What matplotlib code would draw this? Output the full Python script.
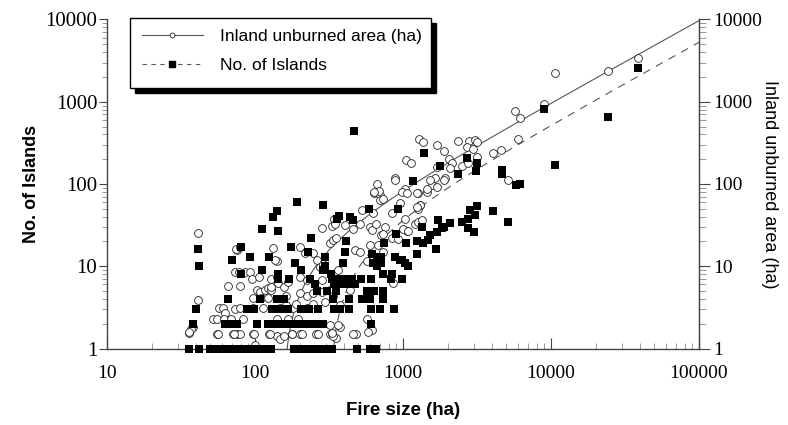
import numpy as np
import matplotlib.pyplot as plt
from matplotlib.lines import Line2D
from matplotlib.patches import Rectangle
from matplotlib.ticker import LogLocator, NullFormatter

# fire size (ha) vs inland unburned area (ha)  -- open circles
area_x = [41, 41, 38, 36, 37, 55, 71, 75, 79, 97, 125, 140, 177, 202, 260, 320,
          57, 61, 63, 73, 52, 55, 62, 69, 83, 66, 79, 73, 78, 86, 93, 75, 95,
          107, 129, 141, 103, 108, 117, 123, 129, 97, 110, 123, 79, 97, 114,
          140, 167, 196, 147, 181, 224, 133, 140, 202, 218, 248, 261, 275, 289,
          320, 337, 355, 285, 330, 343, 163, 202, 224, 248, 163, 190, 129, 144,
          157, 167, 202, 224, 283, 283, 320, 337, 248, 297, 320, 375, 74, 79, 136,
          36, 56, 72, 98, 126, 147, 157, 178, 208, 267, 331, 354, 483, 615, 100,
          640, 700, 700, 955, 1260, 1450, 1300, 1260, 525, 630, 840, 345, 405, 462,
          510, 600, 615, 660, 715, 755, 735, 840, 930, 1070, 1200, 1260, 600, 680,
          735, 475, 510, 570, 365, 440, 860, 375, 365, 460, 580, 570, 337, 330,
          5700, 6150, 5980, 1290, 1370, 1700, 1900, 2350, 2800, 3060, 3140, 2690,
          2990, 4060, 4570, 3140, 1050, 1140, 1700, 1920, 2040, 2130, 2080, 2500,
          2760, 880, 1650, 1570, 1450, 1030, 980, 670, 690, 640, 735, 880, 1060,
          1240, 1300, 1240, 1340, 1530, 1700, 1880, 1000, 1080, 1030, 5150,
          9000, 10650, 24200, 38800]
area_y = [25.5, 3.9, 1.84, 1.53, 1.71, 1.5, 1.5, 1.5, 1.5, 1.5, 1.5, 1.42, 1.5, 1.5, 1.5, 1.5,
          3.1, 3.1, 2.7, 3.0, 2.3, 2.3, 2.3, 2.3, 2.3, 5.7, 5.7, 8.6, 8.6, 8.6, 8.6, 15.7, 7.0,
          7.3, 7.0, 7.3, 5.1, 4.9, 5.1, 5.4, 5.1, 4.1, 4.1, 4.1, 3.1, 3.1, 3.1,
          2.3, 2.3, 2.3, 3.1, 3.1, 3.1, 16.5, 11.7, 17.3, 14.4, 14.4, 11.9, 9.9, 10.8,
          19, 21, 22, 29, 31, 38, 4.3, 4.7, 4.3, 4.7, 3.4, 3.5, 5.6, 6.2,
          5.6, 6.5, 7.4, 6.8, 6.8, 4.9, 5.1, 4.3, 3.5, 3.7, 1.93, 1.84, 16, 17, 12,
          1.6, 1.5, 1.5, 1.5, 1.5, 1.3, 1.4, 1.5, 1.5, 1.5, 1.5, 1.35, 1.5, 1.7, 1.1,
          78, 73, 64, 59, 77, 80, 55, 50, 48, 44, 45, 33, 32, 28,
          33, 30, 27.5, 33, 24, 30, 25, 22, 21.6, 27, 33, 34.6, 18, 18,
          15, 15.7, 15, 11.7, 9, 5.1, 6.2, 3.4, 1.93, 1.5, 1.6, 2.3, 1.4, 1.53,
          780, 630, 350, 352, 325, 296, 253, 330, 330, 340, 320, 278,
          270, 240, 260, 215, 195, 181, 163, 117, 200, 178, 155, 165,
          178, 117, 117, 97, 88, 86, 80, 100, 83, 80, 66, 111, 77,
          77, 55, 53, 36, 111, 92, 111, 28, 27, 38, 111,
          940, 2210, 2340, 3420]

# fire size (ha) vs no. of islands  -- filled squares
isl_x = [36, 42, 50, 54, 59, 63, 69, 74, 80, 86, 94, 101, 109, 118, 128, 184, 198, 214,
         232, 251, 271, 292, 311, 331, 489, 599, 657,
         38, 63, 69, 75, 103, 122, 132, 143, 155, 167, 181, 195, 211, 228, 247, 266, 288, 608,
         40, 88, 98, 130, 147, 167, 205, 231, 267, 340, 375, 430, 610, 700, 870,
         66, 108, 140, 157, 335, 430, 525, 600, 730,
         261, 305, 350, 570, 640, 730,
         254, 343, 380, 425, 475,
         142, 169, 235, 330, 360, 400, 450, 520, 610, 830, 980,
         81, 142, 327, 730, 840,
         111, 206, 288,
         42, 297, 665, 1080,
         186, 396, 625, 715, 1030,
         70, 950, 980,
         92, 124, 297, 665, 715, 880,
         620, 1250,
         228, 405,
         41, 80, 175, 238, 111, 144, 133, 140, 191, 288, 356, 367, 438, 457, 592, 920,
         412, 748, 890, 1040, 1335, 1250, 1370, 1480, 1670, 1730, 1880, 2080, 2490, 2760,
         3060, 3140, 2820, 2760, 3000, 4070, 5150, 1530, 1700, 1830,
         469, 1390, 1780, 1160, 2360, 2690, 3140, 3100, 4700, 4640, 5790, 6150,
         9020, 38800, 24200, 10650]
isl_y = [1] * 27 + [2] * 18 + [3] * 15 + [4] * 9 + [5] * 6 + [6] * 5 + [7] * 11 + \
        [8] * 5 + [9] * 3 + [10] * 4 + [11] * 5 + [12] * 3 + [13] * 6 + [14] * 2 + [15] * 2 + \
        [16, 17, 17, 22, 28, 27, 40, 47, 60, 55, 38, 41, 40, 37, 50, 49,
         20, 19, 25, 19, 30, 20, 19, 21, 16, 36, 30, 34, 35, 38,
         42, 54, 48, 29, 26, 47, 35, 24, 26, 29,
         443, 239, 165, 109, 132, 205, 181, 144, 148, 132, 97, 101,
         806, 2580, 645, 170]

# linear fits y = a*x + b
area_fit = (0.097, -15.0)
isl_fit = (0.053, -17.0)

xtick_vals = [10, 100, 1000, 10000, 100000]
xtick_labels = ['10', '100', '1000', '10000', '100000']
ytick_vals = [1, 10, 100, 1000, 10000]
ytick_labels = ['1', '10', '100', '1000', '10000']

W, H = 788, 425
fig = plt.figure(figsize=(W / 100, H / 100), dpi=100)
ax = fig.add_axes([107 / W, 1 - 348.5 / H, 592 / W, 329 / H])

axis_col = '#444444'
serif = 'Liberation Serif'
sans = 'Liberation Sans'

# fit lines
xf = np.logspace(1, 5, 600)
yf1 = area_fit[0] * xf + area_fit[1]
yf2 = isl_fit[0] * xf + isl_fit[1]
ax.plot(xf[yf1 > 0.5], yf1[yf1 > 0.5], color='#555555', lw=0.8, zorder=2)
ax.plot(xf[yf2 > 0.5], yf2[yf2 > 0.5], color='#555555', lw=0.8, dashes=(7, 6), zorder=2)

ax.plot(area_x, area_y, 'o', ms=5.6, mfc='white', mec='#222222', mew=0.6, zorder=3)
ax.plot(isl_x, isl_y, 's', ms=5.6, mfc='black', mec='black', mew=0, zorder=4, clip_on=False)

ax.set_xscale('log')
ax.set_yscale('log')
ax.set_xlim(10, 100000)
ax.set_ylim(1, 10000)

ax.spines['top'].set_visible(False)
for s in ['left', 'right', 'bottom']:
    ax.spines[s].set_color(axis_col)
    ax.spines[s].set_linewidth(1.0)

ax.set_xticks(xtick_vals)
ax.set_xticklabels(xtick_labels)
ax.xaxis.set_minor_locator(LogLocator(base=10, subs=np.arange(2, 10)))
ax.xaxis.set_minor_formatter(NullFormatter())
ax.tick_params(axis='x', which='major', direction='in', length=8, width=0.8,
               color=axis_col, pad=12, labelsize=14)
ax.tick_params(axis='x', which='minor', direction='in', length=4.5, width=0.6, color='#888888')

ax.set_yticks(ytick_vals)
ax.set_yticklabels(ytick_labels)
ax.yaxis.set_minor_locator(LogLocator(base=10, subs=np.arange(2, 10)))
ax.yaxis.set_minor_formatter(NullFormatter())
ax.tick_params(axis='y', which='major', direction='out', length=6, width=0.8,
               color=axis_col, pad=1, labelsize=15)
ax.tick_params(axis='y', which='minor', direction='out', length=3.5, width=0.6, color='#888888')

ax2 = ax.twinx()
ax2.set_yscale('log')
ax2.set_ylim(1, 10000)
for s in ['top', 'left', 'bottom']:
    ax2.spines[s].set_visible(False)
ax2.spines['right'].set_color(axis_col)
ax2.set_yticks(ytick_vals)
ax2.set_yticklabels(ytick_labels)
ax2.yaxis.set_minor_locator(LogLocator(base=10, subs=np.arange(2, 10)))
ax2.yaxis.set_minor_formatter(NullFormatter())
ax2.tick_params(axis='y', which='major', direction='out', length=8, width=0.8,
                color=axis_col, pad=2, labelsize=14)
ax2.tick_params(axis='y', which='minor', direction='out', length=5, width=0.6, color='#888888')

for lab in ax.get_xticklabels() + ax.get_yticklabels() + ax2.get_yticklabels():
    lab.set_fontfamily(serif)

ax.set_xlabel('Fire size (ha)', fontsize=13.5, fontfamily=sans, fontweight='bold', labelpad=14)
ax.set_ylabel('No. of Islands', fontsize=13, fontfamily=sans, fontweight='bold', labelpad=4)
ax2.set_ylabel('Inland unburned area (ha)', fontsize=13, fontfamily=sans,
               rotation=270, labelpad=12)

# legend box with black drop shadow
fig.patches.append(Rectangle((135 / W, 1 - 93 / H), 301 / W, 70 / H,
                             transform=fig.transFigure, facecolor='black',
                             edgecolor='black', zorder=5))
fig.patches.append(Rectangle((130 / W, 1 - 88 / H), 301 / W, 70 / H,
                             transform=fig.transFigure, facecolor='white',
                             edgecolor='black', lw=1.0, zorder=6))
handles = [Line2D([], [], color='#555555', lw=0.8, marker='o', ms=3.5, mfc='white',
                  mec='#222222', mew=0.6),
           Line2D([], [], color='#555555', lw=0.8, dashes=(4, 4), marker='s', ms=4.2,
                  mfc='black', mec='black')]
leg = fig.legend(handles, ['Inland unburned area (ha)', 'No. of Islands'],
                 loc='upper left', bbox_to_anchor=(142 / W, 1 - 29 / H),
                 frameon=False, prop={'family': sans, 'size': 12.5},
                 handlelength=3.5, handletextpad=1.0, labelspacing=0.8,
                 borderaxespad=0, borderpad=0)
leg.set_zorder(7)

fig.savefig('out.png', dpi=100)
